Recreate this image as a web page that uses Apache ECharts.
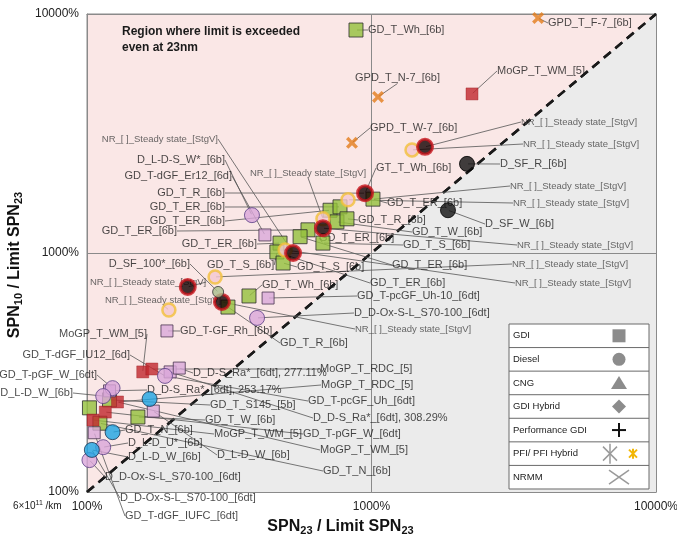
<!DOCTYPE html>
<html><head><meta charset="utf-8">
<script src="https://cdn.jsdelivr.net/npm/echarts@6/dist/echarts.min.js"></script>
<style>html,body{margin:0;padding:0;background:#fff}#c{width:677px;height:537px}</style>
</head><body><div id="c"></div>
<script>
// ---------------- DATA (values in %) ----------------
const xTicks = [100, 1000, 10000];
const yTicks = [100, 1000, 10000];
const diagonal = [[100, 100], [10000, 10000]];
const gdiGreen = [[882,8570],[1012,1680],[715,1510],[775,1560],[756,1350],[820,1390],[598,1250],[561,1170],[675,1100],[477,1100],[465,1010],[489,908],[371,661],[313,594],[120,243],[102,225],[111,194],[151,206]];
const mogpRed = [[2256,4630],[157,318],[169,327],[128,238],[116,216],[105,200]];
const pinkSq = [[422,1190],[433,648],[191,472],[196,318],[211,330],[120,265],[171,218],[106,177]];
const pinkCirc = [[380,1440],[396,535],[188,306],[123,272],[114,252],[114,154],[102,136]];
const blueCirc = [[166,245],[123,178],[104,150]];
const blackCirc = [[2166,2360],[1857,1510]];
const nrRed = [[1542,2780],[949,1780],[675,1270],[530,1000],[226,721],[298,624]];
const nrYellow = [[1388,2700],[827,1670],[675,1390],[497,1030],[282,794],[194,577]];
const olive = [[289,687]];
const pfiCross = [[3850,9620],[1054,4500],[854,2890]];
const NR = 'NR_[ ]_Steady state_[StgV]';
// [label text, marker group, index in group]
const annotations = [
 ['GD_T_Wh_[6b]','g',0],['GPD_T_F-7_[6b]','x',0],['MoGP_T_WM_[5]','r',0],['GPD_T_N-7_[6b]','x',1],
 ['GPD_T_W-7_[6b]','x',2],[NR,'n',0],[NR,'y',0],['D_SF_R_[6b]','k',0],['GT_T_Wh_[6b]','n',1],
 [NR,'g',1],['GD_T_ER_[6b]','g',1],[NR,'y',1],['D_SF_W_[6b]','k',1],['GD_T_R_[6b]','g',5],
 ['GD_T_W_[6b]','g',4],['GD_T_S_[6b]','g',8],[NR,'n',2],['GD_T_ER_[6b]','g',8],[NR,'n',3],
 ['D_L-D-S_W*_[6b]','c',0],['GD_T-dGF_Er12_[6d]','p',0],[NR,'y',2],['GD_T_R_[6b]','n',1],
 ['GD_T_ER_[6b]','g',3],['GD_T_ER_[6b]','g',2],['GD_T_ER_[6b]','g',6],['GD_T_ER_[6b]','g',9],
 ['D_SF_100*_[6b]','o',0],['GD_T_S_[6b]','g',10],['GD_T_S_[6b]','g',11],[NR,'n',4],
 ['GD_T_Wh_[6b]','g',12],['NR_[ ]_Steady state_[StgV]','y',5],['GD_T-GF_Rh_[6b]','p',2],['GD_T_R_[6b]','g',13],
 ['GD_T-pcGF_Uh-10_[6dt]','p',1],['D_D-Ox-S-L_S70-100_[6dt]','c',1],[NR,'n',5],['GD_T_ER_[6b]','g',7],
 ['GD_T_ER_[6b]','g',10],[NR,'y',4],[NR,'y',3],['MoGP_T_WM_[5]','r',1],['GD_T-dGF_IU12_[6d]','c',2],
 ['GD_T-pGF_W_[6dt]','c',3],['D_L-D_W_[6b]','c',4],['D_D-S_Ra*_[6dt], 277.11%','p',4],
 ['D_D-S_Ra*_[6dt], 253.17%','p',5],['GD_T_S145_[5b]','g',14],['GD_T_W_[6b]','g',17],['GD_T_N_[6b]','b',1],
 ['D_L-D_U*_[6b]','c',5],['D_L-D_W_[6b]','b',2],['D_L-D_W_[6b]','p',6],['D_D-Ox-S-L_S70-100_[6dt]','c',6],
 ['D_D-Ox-S-L_S70-100_[6dt]','b',2],['GD_T-dGF_IUFC_[6dt]','p',7],['MoGP_T_RDC_[5]','r',2],['MoGP_T_RDC_[5]','r',3],
 ['GD_T-pcGF_Uh_[6dt]','c',2],['D_D-S_Ra*_[6dt], 308.29%','p',3],['GD_T-pGF_W_[6dt]','r',4],
 ['MoGP_T_WM_[5]','r',5],['MoGP_T_WM_[5]','r',3],['GD_T_N_[6b]','g',16]
];
const legendRows = ['GDI','Diesel','CNG','GDI Hybrid','Performance GDI','PFI/ PFI Hybrid','NRMM'];

// ---------------- LAYOUT (label placement, px) ----------------
const labelSpots = [
 [368,30,'left'],[548,23,'left'],[497,71,'left'],[355,78,'left'],
 [370,128,'left'],[521,122,'left'],[523,144,'left'],[500,164,'left'],[376,168,'left'],
 [510,186,'left'],[387,203,'left'],[513,203,'left'],[485,224,'left'],[358,220,'left'],
 [412,232,'left'],[403,245,'left'],[517,245,'left'],[319,238,'left'],[218,139,'right'],
 [225,160,'right'],[232,176,'right'],[250,173,'left'],[225,193,'right'],
 [225,207,'right'],[225,221,'right'],[177,231,'right'],[257,244,'right'],
 [190,264,'right'],[207,265,'left'],[297,267,'left'],[90,282,'left'],
 [262,285,'left'],[105,300,'left'],[180,331,'left'],[280,343,'left'],
 [357,296,'left'],[354,313,'left'],[355,329,'left'],[392,265,'left'],
 [370,283,'left'],[512,264,'left'],[515,283,'left'],[147,334,'right'],[130,355,'right'],
 [97,375,'right'],[73,393,'right'],[193,373,'left'],
 [147,390,'left'],[210,405,'left'],[205,420,'left'],[125,430,'left'],
 [128,443,'left'],[128,457,'left'],[217,455,'left'],[105,477,'left'],
 [120,498,'left'],[125,516,'left'],[320,369,'left'],[321,385,'left'],
 [308,401,'left'],[313,418,'left'],[303,434,'left'],
 [214,434,'left'],[320,450,'left'],[323,471,'left']
];

const FONT = 'Liberation Sans, Arial, sans-serif';
const groups = {g:gdiGreen, r:mogpRed, p:pinkSq, c:pinkCirc, b:blueCirc, k:blackCirc, n:nrRed, y:nrYellow, o:olive, x:pfiCross};
const annData = annotations.map(a => ({
  value: groups[a[1]][a[2]], name: a[0],
  label: a[0].indexOf('NR_') === 0 ? {fontSize: 9.5, color: '#444'} : {}
}));

const X_PATH = 'path://M2,0L5,3L8,0L10,2L7,5L10,8L8,10L5,7L2,10L0,8L3,5L0,2Z';
function sc(name, data, symbol, size, style) {
  return {type:'scatter', name, data, symbol, symbolSize:size, itemStyle:style, z:4, silent:true};
}

const chart = echarts.init(document.getElementById('c'), null, {renderer:'canvas'});
const axisCommon = {
  type:'log', logBase:10, min:100, max:10000,
  axisTick:{show:false}, minorTick:{show:false},
  axisLine:{show:true, lineStyle:{color:'#8a8a8a', width:1}},
  splitLine:{show:true, lineStyle:{color:'#8a8a8a', width:1}},
  z: 2
};
const subRich = {sub:{fontSize:11, fontWeight:'bold', color:'#111', fontFamily:FONT, verticalAlign:'bottom', padding:[8,0,0,0]}};

// legend box graphic (layout)
function legendGraphic() {
  const top = 324, h = 23.57, L = 509, W = 140, sx = 619, out = [], Z = 100;
  out.push({type:'rect', z:Z, shape:{x:L, y:top, width:W, height:h*7}, style:{fill:'#fff', stroke:'#6a6a6a', lineWidth:1}});
  legendRows.forEach((t, i) => {
    const cy = top + h*i + h/2;
    if (i > 0) out.push({type:'line', z:Z+1, shape:{x1:L, y1:top+h*i, x2:L+W, y2:top+h*i}, style:{stroke:'#6a6a6a', lineWidth:1}});
    out.push({type:'text', z:Z+1, x:L+4, y:cy, style:{text:t, font:'9.5px ' + FONT, fill:'#222', verticalAlign:'middle'}});
  });
  const cy = i => top + h*i + h/2;
  out.push({type:'rect', z:Z+1, shape:{x:sx-6.5, y:cy(0)-6.5, width:13, height:13}, style:{fill:'#8c8c8c'}});
  out.push({type:'circle', z:Z+1, shape:{cx:sx, cy:cy(1), r:6.5}, style:{fill:'#8c8c8c'}});
  out.push({type:'polygon', z:Z+1, shape:{points:[[sx, cy(2)-7],[sx-8, cy(2)+6],[sx+8, cy(2)+6]]}, style:{fill:'#8c8c8c'}});
  out.push({type:'polygon', z:Z+1, shape:{points:[[sx, cy(3)-7],[sx+7, cy(3)],[sx, cy(3)+7],[sx-7, cy(3)]]}, style:{fill:'#8c8c8c'}});
  out.push({type:'line', z:Z+1, shape:{x1:sx-7, y1:cy(4), x2:sx+7, y2:cy(4)}, style:{stroke:'#111', lineWidth:2}});
  out.push({type:'line', z:Z+1, shape:{x1:sx, y1:cy(4)-7, x2:sx, y2:cy(4)+7}, style:{stroke:'#111', lineWidth:2}});
  const ax = sx - 9, ay = cy(5);
  [[0,-10,0,10],[-7,-7,7,7],[-7,7,7,-7]].forEach(d => out.push({type:'line', z:Z+1, shape:{x1:ax+d[0], y1:ay+d[1], x2:ax+d[2], y2:ay+d[3]}, style:{stroke:'#9a9a9a', lineWidth:1.5}}));
  const bx = sx + 14;
  [[0,-5,0,5],[-4,-4,4,4],[-4,4,4,-4]].forEach(d => out.push({type:'line', z:Z+1, shape:{x1:bx+d[0], y1:ay+d[1], x2:bx+d[2], y2:ay+d[3]}, style:{stroke:'#f2b705', lineWidth:2}}));
  out.push({type:'line', z:Z+1, shape:{x1:sx-10, y1:cy(6)-7, x2:sx+10, y2:cy(6)+7}, style:{stroke:'#9a9a9a', lineWidth:1.5}});
  out.push({type:'line', z:Z+1, shape:{x1:sx-10, y1:cy(6)+7, x2:sx+10, y2:cy(6)-7}, style:{stroke:'#9a9a9a', lineWidth:1.5}});
  return out;
}

chart.setOption({
  animation:false,
  backgroundColor:'#fff',
  textStyle:{fontFamily:FONT},
  grid:{left:87, top:14, right:21, bottom:45, outerBoundsMode:'none', containLabel:false,
        show:true, backgroundColor:'#fae7e6', borderColor:'#8a8a8a', borderWidth:1},
  xAxis:[
    Object.assign({}, axisCommon, {
      name:'SPN{sub|23} / Limit SPN{sub|23}', nameLocation:'middle', nameGap:25,
      nameTextStyle:{fontSize:16, fontWeight:'bold', color:'#111', fontFamily:FONT, padding:[0,62,0,0], rich:subRich},
      axisLabel:{fontSize:12, color:'#222', margin:9, formatter:v => (xTicks.indexOf(v) >= 0 ? v + '%' : '')}
    }),
    Object.assign({}, axisCommon, {position:'top', axisLabel:{show:false}, splitLine:{show:false}})
  ],
  yAxis:[
    Object.assign({}, axisCommon, {
      name:'SPN{sub|10} / Limit SPN{sub|23}', nameLocation:'middle', nameGap:61, nameRotate:90,
      nameTextStyle:{fontSize:16, fontWeight:'bold', color:'#111', fontFamily:FONT, padding:[0,24,0,0], rich:subRich},
      axisLabel:{fontSize:12, color:'#222', margin:8, formatter:v => (yTicks.indexOf(v) >= 0 ? v + '%' : '')}
    }),
    Object.assign({}, axisCommon, {position:'right', axisLabel:{show:false}, splitLine:{show:false}})
  ],
  series:[
    {type:'line', data:diagonal, symbol:'none', silent:true, z:1,
     lineStyle:{color:'#1a1a1a', width:2.5, type:[9,6]},
     areaStyle:{color:'#ebebeb', origin:'start', opacity:1}},
    {type:'line', data:diagonal, symbol:'none', silent:true, z:3,
     lineStyle:{color:'#1a1a1a', width:2.5, type:[9,6]}},
    {type:'scatter', data:annData, symbol:'circle', symbolSize:2, silent:true, z:3,
     itemStyle:{color:'rgba(0,0,0,0)'},
     label:{show:true, formatter:p => p.name, fontSize:11, color:'#1a1a1a', fontFamily:FONT},
     labelLine:{show:true, lineStyle:{color:'#555', width:0.8}},
     labelLayout:p => { const s = labelSpots[p.dataIndex]; return {x:s[0], y:s[1], align:s[2], verticalAlign:'middle'}; }},
    sc('GDI', gdiGreen, 'rect', 14, {color:'#93c13c', borderColor:'#2d2d2d', borderWidth:1}),
    sc('MoGP', mogpRed, 'rect', 12, {color:'#c1272d', borderColor:'#9a1c20', borderWidth:0.5}),
    sc('GDI filter', pinkSq, 'rect', 12, {color:'#d9a9d9', borderColor:'#4a3650', borderWidth:1}),
    sc('Diesel filter', pinkCirc, 'circle', 15, {color:'#d9a6d9', borderColor:'#5a3f86', borderWidth:1}),
    sc('Diesel', blueCirc, 'circle', 15, {color:'#1ea5e3', borderColor:'#1b3550', borderWidth:1}),
    sc('D_SF', blackCirc, 'circle', 15, {color:'#111', borderColor:'#000', borderWidth:1}),
    sc('NR yellow', nrYellow, 'circle', 13, {color:'#f4c7cf', borderColor:'#f3c13a', borderWidth:2.5}),
    sc('NR red', nrRed, 'circle', 15, {color:'#140000', borderColor:'#c8141c', borderWidth:3}),
    sc('Olive', olive, 'circle', 11, {color:'#a9bf8c', borderColor:'#333', borderWidth:1}),
    sc('PFI', pfiCross, X_PATH, 12, {color:'#e47d1b'})
  ],
  graphic:[
    {type:'text', left:122, top:24, z:100, style:{text:'Region where limit is exceeded\neven at 23nm', font:'bold 12px ' + FONT, fill:'#1a1a1a', lineHeight:16}},
    {type:'text', left:13, top:500, z:100, style:{text:'6×10{sup|11} /km', rich:{sup:{fontSize:7, verticalAlign:'top', padding:[0,0,5,0]}}, font:'10px ' + FONT, fill:'#222'}}
  ].concat(legendGraphic())
});
</script></body></html>
